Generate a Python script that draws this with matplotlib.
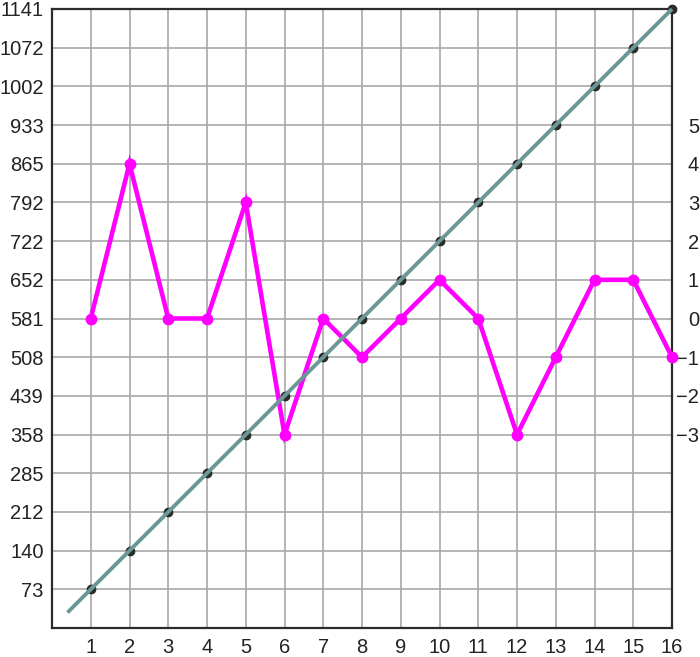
import numpy as np
import matplotlib
matplotlib.use("Agg")
import matplotlib.pyplot as plt
from matplotlib.ticker import FixedLocator, NullLocator

# data
x_values = list(range(1, 17))
left_ticks = [73, 140, 212, 285, 358, 439, 508, 581, 652, 722, 792, 865, 933, 1002, 1072, 1141]
grey_values = [73, 140, 212, 285, 358, 439, 508, 581, 652, 722, 792, 865, 933, 1002, 1072, 1141]
pink_values = [0, 4, 0, 0, 3, -3, 0, -1, 0, 1, 0, -3, -1, 1, 1, -1]
right_ticks = [-3, -2, -1, 0, 1, 2, 3, 4, 5]

GRID = "#a8a8a8"
SPINE = "#2b2b2b"
PINK = "#ff00ff"
TEAL = "#6b9797"
DOT = "#2a2a2a"
FS = 14.5

plt.rcParams["font.family"] = ["Liberation Sans", "DejaVu Sans"]
plt.rcParams["font.size"] = FS
plt.rcParams["text.color"] = "#222222"

# left axis labels are evenly spaced although their values are not
tk = np.array(left_ticks, dtype=float)
idx = np.arange(len(tk), dtype=float)


def fwd(v):
    v = np.asarray(v, dtype=float)
    p = np.interp(v, tk, idx)
    p = np.where(v < tk[0], (v - tk[0]) / (tk[1] - tk[0]), p)
    p = np.where(v > tk[-1], idx[-1] + (v - tk[-1]) / (tk[-1] - tk[-2]), p)
    return p


def inv(p):
    p = np.asarray(p, dtype=float)
    v = np.interp(p, idx, tk)
    v = np.where(p < 0, tk[0] + p * (tk[1] - tk[0]), v)
    v = np.where(p > idx[-1], tk[-1] + (p - idx[-1]) * (tk[-1] - tk[-2]), v)
    return v


fig = plt.figure(figsize=(7.0, 6.57), dpi=100)
ax = fig.add_axes([52 / 700, 29 / 657, 620 / 700, 619 / 657])
ax.set_yscale("function", functions=(fwd, inv))
ax.set_xlim(0, 16)
ax.set_ylim(float(inv(-1)), 1141)
ax.yaxis.set_major_locator(FixedLocator(left_ticks))
ax.yaxis.set_minor_locator(NullLocator())
ax.set_yticklabels([str(t) for t in left_ticks])
ax.set_xticks(x_values)
ax.set_xticklabels([str(x) for x in x_values])
ax.tick_params(axis="both", length=0, labelsize=FS, labelcolor="#222222")
ax.tick_params(axis="y", pad=6)
ax.tick_params(axis="x", pad=7)
ax.grid(True, color=GRID, linewidth=1.2)
for s in ax.spines.values():
    s.set_color(SPINE)
    s.set_linewidth(1.6)

# pink series on the right axis
ax2 = ax.twinx()
ax2.set_ylim(-8, 8)
ax2.set_yticks(right_ticks)
ax2.tick_params(axis="y", length=0, pad=19.5, labelsize=FS, labelcolor="#222222")
for lab in ax2.get_yticklabels():
    lab.set_horizontalalignment("right")
for s in ax2.spines.values():
    s.set_visible(False)
ax2.plot(x_values, pink_values, color=PINK, linewidth=3.3, marker="o",
         markersize=7.5, solid_joinstyle="miter", clip_on=False)

# grey series and trend on top
ax3 = ax.twinx()
ax3.set_yscale("function", functions=(fwd, inv))
ax3.set_ylim(float(inv(-1)), 1141)
ax3.axis("off")
ax3.plot(x_values, grey_values, linestyle="none", marker="o", markersize=6,
         color=DOT, clip_on=False)
pos = fwd(grey_values)
k, b = np.polyfit(x_values, pos, 1)
xs = np.array([0.4, 16.0])
ax3.plot(xs, inv(k * xs + b), color=TEAL, linewidth=2.8, solid_capstyle="butt",
         clip_on=False)

fig.savefig("out.png", dpi=100)
